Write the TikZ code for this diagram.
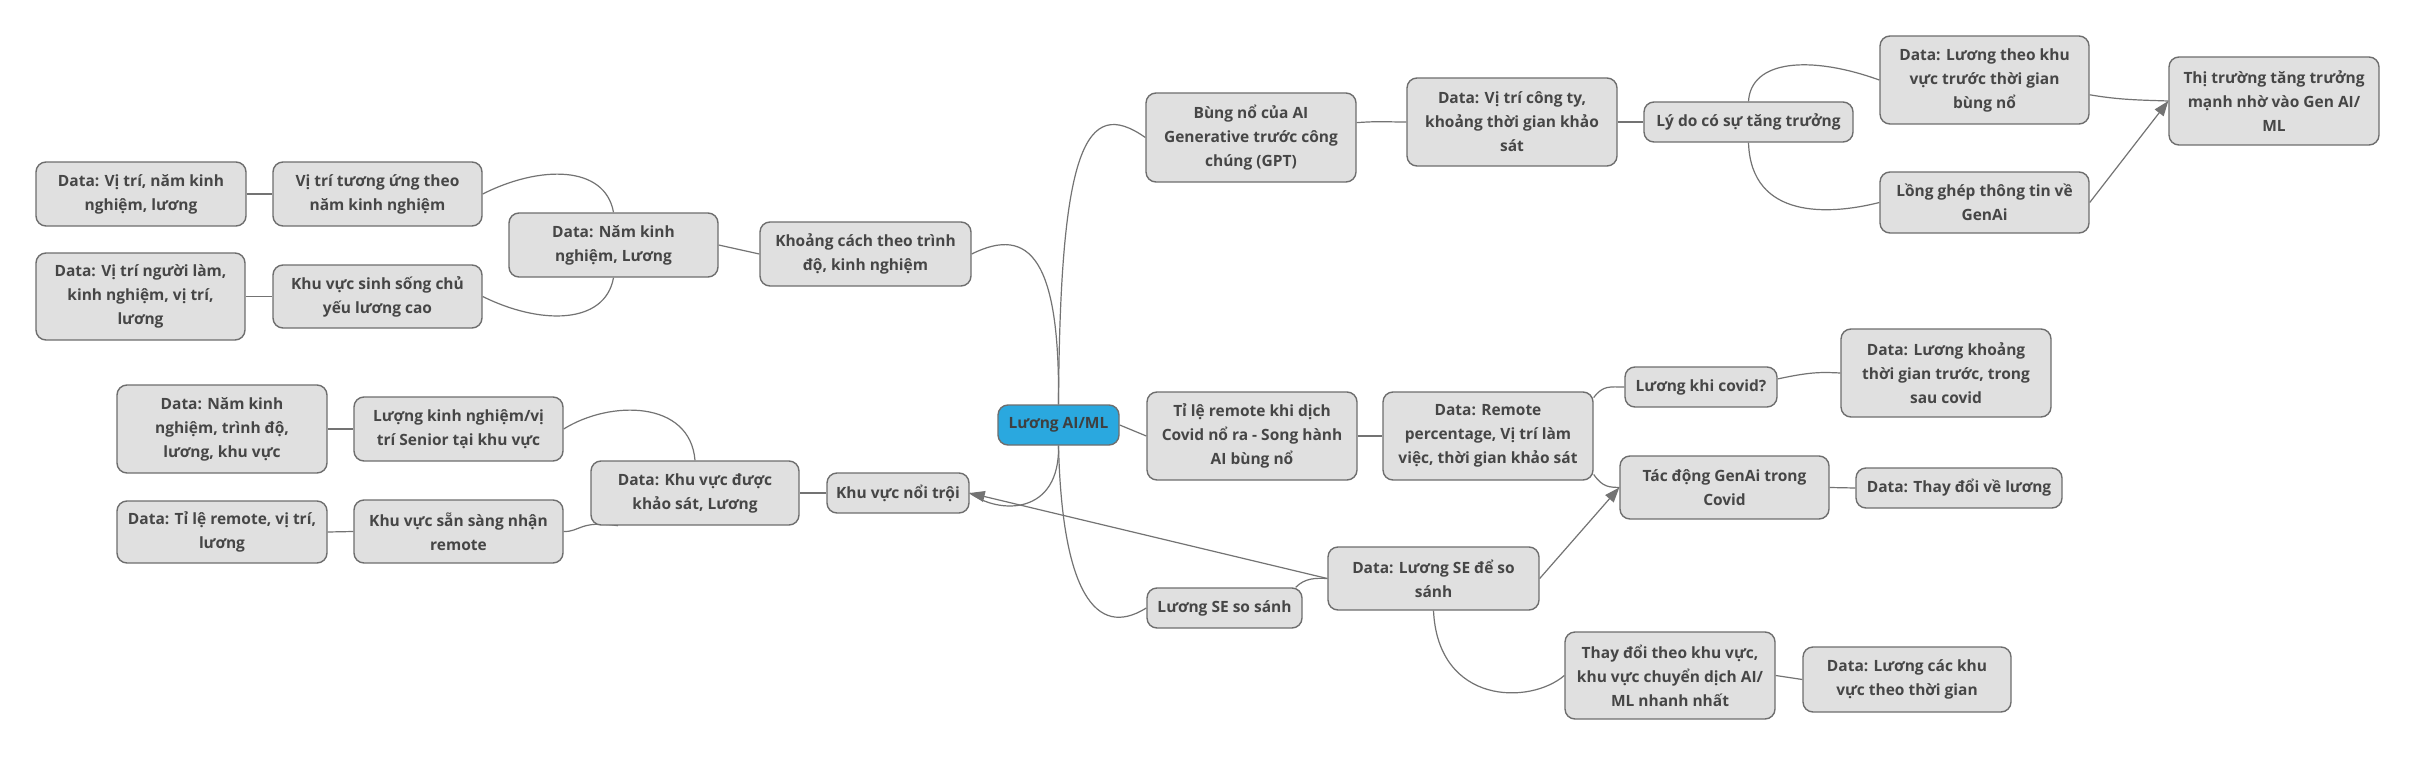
\documentclass[tikz,border=0pt]{standalone}
\usepackage{fontspec}
\setmainfont{Open Sans}
\usetikzlibrary{arrows.meta,backgrounds}
\definecolor{boxfill}{HTML}{E0E0E0}
\definecolor{boxline}{HTML}{6E6E6E}
\definecolor{txt}{HTML}{464646}
\definecolor{conn}{HTML}{737373}
\definecolor{central}{HTML}{2AA8DF}
\tikzset{
  box/.style={draw=boxline, line width=1.4pt, fill=boxfill, rounded corners=10pt,
    align=center, inner sep=0pt, text=txt,
    font=\fontsize{15.5}{24}\selectfont\bfseries},
  centralbox/.style={box, fill=central, text=txt!90!black},
  link/.style={draw=conn, line width=1.2pt},
  arrowlink/.style={link, -{Triangle[length=15pt,width=11pt]}},
}
\begin{document}
\begin{tikzpicture}[x=1pt,y=-1pt]
\useasboundingbox (0,0) rectangle (2417,757);

% nodes
\node[centralbox, minimum width=121, minimum height=40] (c) at (1058.5,425) {Lương AI/ML};
\node[box, minimum width=210, minimum height=88] (tile) at (1252,436) {Tỉ lệ remote khi dịch\\Covid nổ ra - Song hành\\AI bùng nổ};
\node[box, minimum width=210, minimum height=88] (drem) at (1488,436) {Data: Remote\\percentage, Vị trí làm\\việc, thời gian khảo sát};
\node[box, minimum width=152, minimum height=40] (lkc) at (1701,387) {Lương khi covid?};
\node[box, minimum width=210, minimum height=88] (dlk) at (1946,373) {Data: Lương khoảng\\thời gian trước, trong\\sau covid};
\node[box, minimum width=209, minimum height=63] (tdg) at (1724.5,487.5) {Tác động GenAi trong\\Covid};
\node[box, minimum width=206, minimum height=40] (dtd) at (1959,488) {Data: Thay đổi về lương};
\node[box, minimum width=210, minimum height=89] (bun) at (1251,137.5) {Bùng nổ của AI\\Generative trước công\\chúng (GPT)};
\node[box, minimum width=210, minimum height=88] (dvt) at (1512,122) {Data: Vị trí công ty,\\khoảng thời gian khảo\\sát};
\node[box, minimum width=209, minimum height=40] (lydo) at (1748.5,122) {Lý do có sự tăng trưởng};
\node[box, minimum width=209, minimum height=88] (dltk) at (1984.5,80) {Data: Lương theo khu\\vực trước thời gian\\bùng nổ};
\node[box, minimum width=209, minimum height=61] (long) at (1984.5,202.5) {Lồng ghép thông tin về\\GenAi};
\node[box, minimum width=210, minimum height=88] (tt) at (2274,101) {Thị trường tăng trưởng\\mạnh nhờ vào Gen AI/\\ML};
\node[box, minimum width=211, minimum height=64] (kc) at (865.5,254) {Khoảng cách theo trình\\độ, kinh nghiệm};
\node[box, minimum width=209, minimum height=64] (dnk) at (613.5,245) {Data: Năm kinh\\nghiệm, Lương};
\node[box, minimum width=209, minimum height=64] (vtu) at (377.5,194) {Vị trí tương ứng theo\\năm kinh nghiệm};
\node[box, minimum width=210, minimum height=64] (dvtn) at (141,194) {Data: Vị trí, năm kinh\\nghiệm, lương};
\node[box, minimum width=209, minimum height=63] (kvs) at (377.5,296.5) {Khu vực sinh sống chủ\\yếu lương cao};
\node[box, minimum width=209, minimum height=87] (dvtnl) at (140.5,296.5) {Data: Vị trí người làm,\\kinh nghiệm, vị trí,\\lương};
\node[box, minimum width=142, minimum height=40] (kvn) at (898,493) {Khu vực nổi trội};
\node[box, minimum width=208, minimum height=64] (dkv) at (695,493) {Data: Khu vực được\\khảo sát, Lương};
\node[box, minimum width=209, minimum height=64] (lkn) at (458.5,429) {Lượng kinh nghiệm/vị\\trí Senior tại khu vực};
\node[box, minimum width=210, minimum height=88] (dnkt) at (222,429) {Data: Năm kinh\\nghiệm, trình độ,\\lương, khu vực};
\node[box, minimum width=209, minimum height=63] (kvsr) at (458.5,531.5) {Khu vực sẵn sàng nhận\\remote};
\node[box, minimum width=210, minimum height=62] (dtl) at (222,532) {Data: Tỉ lệ remote, vị trí,\\lương};
\node[box, minimum width=155, minimum height=40] (lse) at (1224.5,608) {Lương SE so sánh};
\node[box, minimum width=211, minimum height=63] (dlse) at (1433.5,578.5) {Data: Lương SE để so\\sánh};
\node[box, minimum width=210, minimum height=87] (tdk) at (1670,675.5) {Thay đổi theo khu vực,\\khu vực chuyển dịch AI/\\ML nhanh nhất};
\node[box, minimum width=208, minimum height=65] (dlc) at (1907,679.5) {Data: Lương các khu\\vực theo thời gian};

% connectors, behind the boxes
\begin{pgfonlayer}{background}
\fill[white] (0,0) rectangle (2417,757);
\path[link] (c.north) .. controls (1060,150) and (1085,95) .. (bun.west);
\path[link] (c.north) .. controls (1060,260) and (1030,225) .. (kc.east);
\path[link] (c.east) -- (tile.west);
\path[link] (c.south) .. controls (1060,515) and (1000,515) .. (kvn.east);
\path[link] (c.south) .. controls (1062,590) and (1095,640) .. (lse.west);
\path[link] (kc.west) -- (dnk.east);
\path[link] (vtu.east) .. controls (540,165) and (605,165) .. (dnk.north);
\path[link] (kvs.east) .. controls (540,325) and (605,325) .. (dnk.south);
\path[link] (dvtn.east) -- (vtu.west);
\path[link] (dvtnl.east) -- (kvs.west);
\path[link] (kvn.west) -- (dkv.east);
\path[link] (lkn.east) .. controls (610,400) and (690,400) .. (dkv.north);
\path[link] (kvsr.east) .. controls (580,532) and (580,520) .. (dkv.-157);
\path[link] (dnkt.east) -- (lkn.west);
\path[link] (dtl.east) -- (kvsr.west);
\path[link] (tile.east) -- (drem.west);
\path[link] (drem.20) .. controls (1603,385) and (1610,387) .. (lkc.west);
\path[link] (drem.-20) .. controls (1603,488) and (1610,487) .. (tdg.west);
\path[link] (lkc.6) .. controls (1810,372) and (1820,372) .. (dlk.west);
\path[link] (tdg.east) -- (dtd.west);
\path[link] (bun.8) .. controls (1380,121) and (1385,122) .. (dvt.west);
\path[link] (dvt.east) -- (lydo.west);
\path[link] (lydo.north) .. controls (1751,60) and (1810,55) .. (dltk.west);
\path[link] (lydo.south) .. controls (1751,220) and (1830,215) .. (long.west);
\path[link] (dltk.-8) .. controls (2120,100) and (2140,100) .. (tt.west);
\path[link] ([xshift=-7pt]lse.north east) .. controls (1305,578) and (1315,578) .. (dlse.west);
\path[link] (dlse.south) .. controls (1438,705) and (1530,705) .. (tdk.west);
\path[link] (tdk.east) -- (dlc.west);
\path[arrowlink] (long.east) -- (tt.west);
\path[arrowlink] (dlse.west) -- (kvn.east);
\path[arrowlink] (dlse.east) -- (tdg.west);
\end{pgfonlayer}
\end{tikzpicture}
\end{document}
